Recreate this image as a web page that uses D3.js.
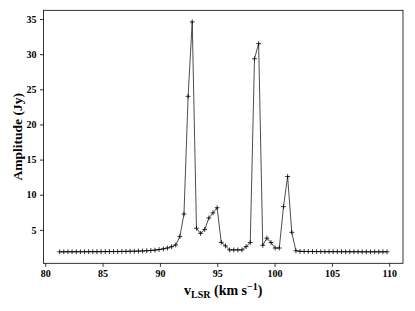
<!DOCTYPE html>
<html>
<head>
<meta charset="utf-8">
<script src="https://cdn.jsdelivr.net/npm/d3@7"></script>
<style>
    html, body { margin: 0; padding: 0; background: #fff; }
    svg { display: block; font-family: "Liberation Serif", "DejaVu Serif", serif; }
</style>
</head>
<body>
<div id="container"></div>
<script>
// velocity channels (km/s)
const velocity = [
    81.26, 81.62, 81.98, 82.34, 82.71, 83.07, 83.43, 83.79, 84.15, 84.51,
    84.87, 85.24, 85.60, 85.96, 86.32, 86.68, 87.04, 87.40, 87.77, 88.13,
    88.49, 88.85, 89.21, 89.57, 89.93, 90.30, 90.66, 91.02, 91.38, 91.74,
    92.10, 92.46, 92.82, 93.19, 93.55, 93.91, 94.27, 94.63, 94.99, 95.35,
    95.72, 96.08, 96.44, 96.80, 97.16, 97.52, 97.88, 98.25, 98.61, 98.97,
    99.33, 99.69, 100.05, 100.41, 100.78, 101.14, 101.50, 101.86, 102.22, 102.58,
    102.94, 103.31, 103.67, 104.03, 104.39, 104.75, 105.11, 105.47, 105.84, 106.20,
    106.56, 106.92, 107.28, 107.64, 108.00, 108.37, 108.73, 109.09, 109.45, 109.81
];
// amplitude (Jy)
const amplitude = [
    1.88, 1.88, 1.89, 1.88, 1.89, 1.89, 1.89, 1.90, 1.90, 1.90,
    1.90, 1.91, 1.91, 1.92, 1.92, 1.93, 1.94, 1.95, 1.96, 1.98,
    2.00, 2.03, 2.07, 2.12, 2.20, 2.30, 2.42, 2.60, 2.85, 4.05,
    7.25, 24.0, 34.6, 5.23, 4.50, 5.05, 6.70, 7.42, 8.15, 3.22,
    2.72, 2.15, 2.15, 2.15, 2.15, 2.62, 3.20, 29.35, 31.5, 2.80,
    3.82, 3.20, 2.42, 2.42, 8.30, 12.6, 4.65, 2.03, 1.95, 1.93,
    1.92, 1.92, 1.91, 1.91, 1.90, 1.90, 1.90, 1.90, 1.89, 1.89,
    1.89, 1.89, 1.89, 1.88, 1.88, 1.88, 1.88, 1.88, 1.88, 1.88
];
const xTicks = [80, 85, 90, 95, 100, 105, 110];
const yTicks = [5, 10, 15, 20, 25, 30, 35];

const width = 415;
const height = 311;
const plot = { left: 43.5, right: 403, top: 10.3, bottom: 263.3 };

const points = velocity.map((v, i) => ({ v: v, a: amplitude[i] }));

const svg = d3.select('#container').append('svg')
    .attr('width', width)
    .attr('height', height);

const x = d3.scaleLinear()
    .domain([79.85, 111.2])
    .range([plot.left, plot.right]);
const y = d3.scaleLinear()
    .domain([0.244, 36.24])
    .range([plot.bottom, plot.top]);

// axes
const xAxis = svg.append('g')
    .attr('transform', `translate(0,${plot.bottom})`)
    .call(d3.axisBottom(x).tickValues(xTicks).tickSize(3.5).tickPadding(3.5).tickSizeOuter(0));
const yAxis = svg.append('g')
    .attr('transform', `translate(${plot.left},0)`)
    .call(d3.axisLeft(y).tickValues(yTicks).tickSize(3.5).tickPadding(3.5).tickSizeOuter(0));

[xAxis, yAxis].forEach(g => {
    g.select('.domain').remove();
    g.selectAll('line').attr('stroke', '#000').attr('stroke-width', 0.8);
    g.selectAll('text')
        .attr('fill', '#000')
        .style('font-family', '"Liberation Serif", serif')
        .style('font-weight', 'bold')
        .style('font-size', '10px');
});

// frame
svg.append('rect')
    .attr('x', plot.left)
    .attr('y', plot.top)
    .attr('width', plot.right - plot.left)
    .attr('height', plot.bottom - plot.top)
    .attr('fill', 'none')
    .attr('stroke', '#000')
    .attr('stroke-width', 0.8);

// spectrum line
const line = d3.line()
    .x(d => x(d.v))
    .y(d => y(d.a));
svg.append('path')
    .datum(points)
    .attr('d', line)
    .attr('fill', 'none')
    .attr('stroke', '#000')
    .attr('stroke-width', 0.7);

// '+' markers
const m = 2.4;
svg.append('g')
    .selectAll('path')
    .data(points)
    .enter()
    .append('path')
    .attr('d', d => {
        const cx = x(d.v), cy = y(d.a);
        return `M${cx - m},${cy}H${cx + m}M${cx},${cy - m}V${cy + m}`;
    })
    .attr('stroke', '#000')
    .attr('stroke-width', 0.8);

// axis labels
const xl = svg.append('text')
    .attr('x', (plot.left + plot.right) / 2)
    .attr('y', 295)
    .attr('text-anchor', 'middle')
    .style('font-weight', 'bold')
    .style('font-size', '14px');
xl.append('tspan').text('v');
xl.append('tspan').attr('dy', 3).style('font-size', '10px').text('LSR');
xl.append('tspan').attr('dy', -3).text(' (km s');
xl.append('tspan').attr('dy', -5).style('font-size', '10px').text('\u22121');
xl.append('tspan').attr('dy', 5).text(')');

svg.append('text')
    .attr('transform', `translate(21.7,${(plot.top + plot.bottom) / 2}) rotate(-90)`)
    .attr('text-anchor', 'middle')
    .style('font-weight', 'bold')
    .style('font-size', '13.5px')
    .text('Amplitude (Jy)');
</script>
</body>
</html>
